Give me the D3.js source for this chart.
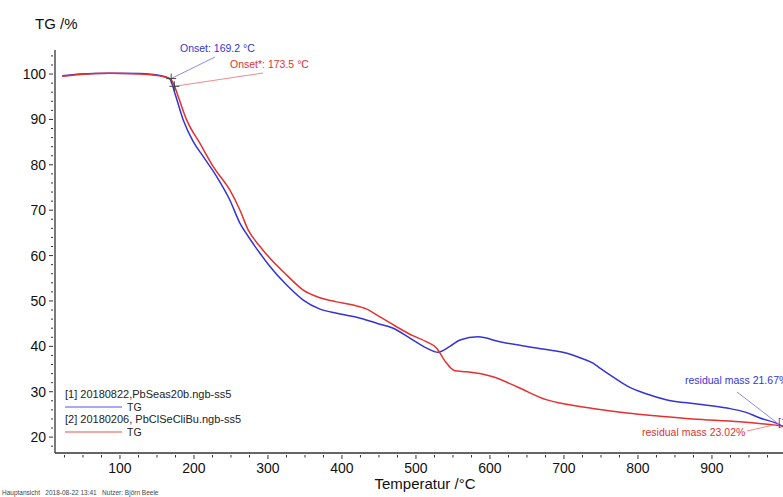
<!DOCTYPE html>
<html>
<head>
<meta charset="utf-8">
<script src="https://cdn.jsdelivr.net/npm/d3@7"></script>
<style>
  html, body { margin: 0; padding: 0; background: #fff; }
  svg { display: block; font-family: "Liberation Sans", Arial, sans-serif; }
</style>
</head>
<body>
<svg id="chart" width="783" height="497"></svg>
<script>
// ---- Data ----
const blueTemp = [22, 46, 86, 127, 154, 167.6, 174.3, 185.5, 199, 212.6, 230.7, 248.6, 262.2, 273.4, 289.2, 302.7, 325.3, 347.7, 370.3, 392.8, 419.9, 446.9, 469.3, 491.9, 514.5, 529.7, 545.9, 559.5, 583.8, 613.5, 671.6, 704, 721.6, 739.2, 748.6, 765, 785.1, 810, 839.2, 880, 920.3, 945, 964.9, 991.9, 998];
const blueMass = [99.6, 100.0, 100.2, 100.1, 99.7, 98.9, 95.7, 89.9, 85.1, 81.8, 77.4, 72.2, 67.1, 64.2, 60.5, 57.6, 53.5, 50.2, 48.2, 47.3, 46.4, 45.1, 44.0, 41.8, 39.6, 38.7, 40.0, 41.4, 42.1, 41.0, 39.4, 38.5, 37.5, 36.3, 35.2, 33.4, 31.3, 29.6, 28.2, 27.3, 26.4, 25.5, 24.2, 22.7, 22.1];

const redTemp = [22, 46, 86, 127, 154, 167.6, 172, 178.8, 190.1, 208.1, 226, 248.6, 262.2, 273.4, 289.2, 302.7, 325.3, 347.7, 370.3, 392.8, 415.3, 433.4, 451.4, 473.9, 496.4, 514.5, 528, 539, 552.7, 568.9, 604, 636.5, 677, 694.6, 739, 785.1, 830, 874.3, 937.8, 982.4, 998];
const redMass = [99.5, 99.9, 100.2, 100.0, 99.6, 99.0, 98.0, 95.0, 89.9, 84.7, 79.6, 74.4, 70.0, 65.6, 62.0, 59.4, 55.7, 52.4, 50.7, 49.8, 49.1, 48.2, 46.5, 44.3, 42.3, 41.0, 39.6, 36.8, 34.6, 34.4, 33.3, 31.1, 28.2, 27.5, 26.3, 25.3, 24.6, 24.0, 23.4, 22.7, 22.4];

const xTicks = [100, 200, 300, 400, 500, 600, 700, 800, 900];
const yTicks = [20, 30, 40, 50, 60, 70, 80, 90, 100];

const legendNames = ["[1] 20180822,PbSeas20b.ngb-ss5", "[2] 20180206, PbClSeCliBu.ngb-ss5"];
const legendSignal = ["TG", "TG"];

const onsetTemps = [169.2, 173.5];
const onsetMass = [99.0, 97.3];
const onsetLabels = ["Onset: 169.2 \u00B0C", "Onset*: 173.5 \u00B0C"];
const residualLabels = ["residual mass 21.67%", "residual mass 23.02%"];
const residualPoint = [990, 22.9];

const yLabel = "TG /%";
const xLabel = "Temperatur /\u00B0C";
const footer = "Hauptansicht   2018-08-22 13:41   Nutzer: Bj\u00F6rn Beele";

// ---- Styling ----
const blue = "#3434d6", red = "#e5312f";
const blueLight = "#8c8cec", redLight = "#f08a8a";
const axisColor = "#333";

const svg = d3.select("#chart");
const mLeft = 55, mRight = 783, mTop = 50, mBottom = 453;

const x = d3.scaleLinear().domain([12.2, 996]).range([mLeft, mRight]);
const y = d3.scaleLinear().domain([16.5, 105.3]).range([mBottom, mTop]);

// Axes
const xMinor = d3.range(25, 1000, 25);
const yMinor = d3.range(18, 106, 2);

const gx = svg.append("g").attr("transform", `translate(0,${mBottom})`);
gx.append("line").attr("x1", mLeft).attr("x2", mRight).attr("stroke", axisColor).attr("stroke-width", 1.3);
gx.selectAll(".mn").data(xMinor.filter(d => x(d) > mLeft && x(d) < mRight)).enter().append("line")
  .attr("x1", d => x(d)).attr("x2", d => x(d)).attr("y1", 2).attr("y2", d => d % 100 === 0 ? 6 : 4.5)
  .attr("stroke", axisColor).attr("stroke-width", 1);
gx.selectAll(".tl").data(xTicks).enter().append("text")
  .attr("x", d => x(d)).attr("y", 20).attr("text-anchor", "middle")
  .attr("font-size", 14).attr("fill", "#111").text(d => d);

const gy = svg.append("g").attr("transform", `translate(${mLeft},0)`);
gy.append("line").attr("y1", mTop).attr("y2", mBottom).attr("stroke", axisColor).attr("stroke-width", 1.3);
gy.selectAll(".mn").data(yMinor.filter(d => y(d) > mTop && y(d) < mBottom)).enter().append("line")
  .attr("y1", d => y(d)).attr("y2", d => y(d)).attr("x1", -2).attr("x2", d => d % 10 === 0 ? -6 : -4)
  .attr("stroke", axisColor).attr("stroke-width", 1);
gy.selectAll(".tl").data(yTicks).enter().append("text")
  .attr("x", -9).attr("y", d => y(d) + 5).attr("text-anchor", "end")
  .attr("font-size", 14).attr("fill", "#111").text(d => d);

svg.append("text").attr("x", 35).attr("y", 29).attr("font-size", 15).attr("fill", "#111").text(yLabel);
svg.append("text").attr("x", 425).attr("y", 489).attr("text-anchor", "middle").attr("font-size", 15).attr("fill", "#111").text(xLabel);
svg.append("text").attr("x", 2).attr("y", 495).attr("font-size", 6.5).attr("fill", "#444").style("white-space", "pre").text(footer);

// Curves
const line = d3.line().x(d => x(d[0])).y(d => y(d[1])).curve(d3.curveMonotoneX);
const blueData = blueTemp.map((t, i) => [t, blueMass[i]]);
const redData = redTemp.map((t, i) => [t, redMass[i]]);

svg.append("path").datum(blueData).attr("d", line).attr("fill", "none").attr("stroke", blue).attr("stroke-width", 1.5);
svg.append("path").datum(redData).attr("d", line).attr("fill", "none").attr("stroke", red).attr("stroke-width", 1.5);

// Onset annotations
const onsetColors = [blue, red];
const onsetLight = [blueLight, redLight];
const onsetTextPos = [[180, 52], [230, 68]];
const onsetLineStart = [[215, 57], [263, 73]];
onsetTemps.forEach((t, i) => {
  const px = x(t), py = y(onsetMass[i]);
  svg.append("line").attr("x1", onsetLineStart[i][0]).attr("y1", onsetLineStart[i][1])
    .attr("x2", px).attr("y2", py).attr("stroke", onsetLight[i]).attr("stroke-width", 1);
  svg.append("text").attr("x", onsetTextPos[i][0]).attr("y", onsetTextPos[i][1])
    .attr("font-size", 10.5).attr("fill", onsetColors[i]).text(onsetLabels[i]);
  svg.append("path").attr("d", `M${px - 5},${py}H${px + 5}M${px},${py - 5}V${py + 5}`)
    .attr("stroke", "#444").attr("stroke-width", 1);
});

// Residual mass annotations
const rp = [x(residualPoint[0]), y(residualPoint[1])];
svg.append("line").attr("x1", 737).attr("y1", 392).attr("x2", rp[0]).attr("y2", rp[1]).attr("stroke", blueLight).attr("stroke-width", 1);
svg.append("text").attr("x", 685).attr("y", 384).attr("font-size", 10.5).attr("fill", blue).text(residualLabels[0]);
svg.append("line").attr("x1", 747).attr("y1", 431).attr("x2", rp[0]).attr("y2", rp[1]).attr("stroke", redLight).attr("stroke-width", 1);
svg.append("text").attr("x", 642).attr("y", 436).attr("font-size", 10.5).attr("fill", red).text(residualLabels[1]);
svg.append("text").attr("x", 778).attr("y", 426).attr("font-size", 10.5).attr("fill", "#6a3ab0").text("[1]");

// Legend
const legColors = [blueLight, redLight];
legendNames.forEach((n, i) => {
  const base = 398 + i * 25;
  svg.append("text").attr("x", 65).attr("y", base).attr("font-size", 11).attr("fill", "#222").text(n);
  svg.append("line").attr("x1", 65).attr("x2", 122).attr("y1", base + 9).attr("y2", base + 9)
    .attr("stroke", legColors[i]).attr("stroke-width", 1.5);
  svg.append("text").attr("x", 127).attr("y", base + 13).attr("font-size", 10.5).attr("fill", "#222").text(legendSignal[i]);
});
</script>
</body>
</html>
